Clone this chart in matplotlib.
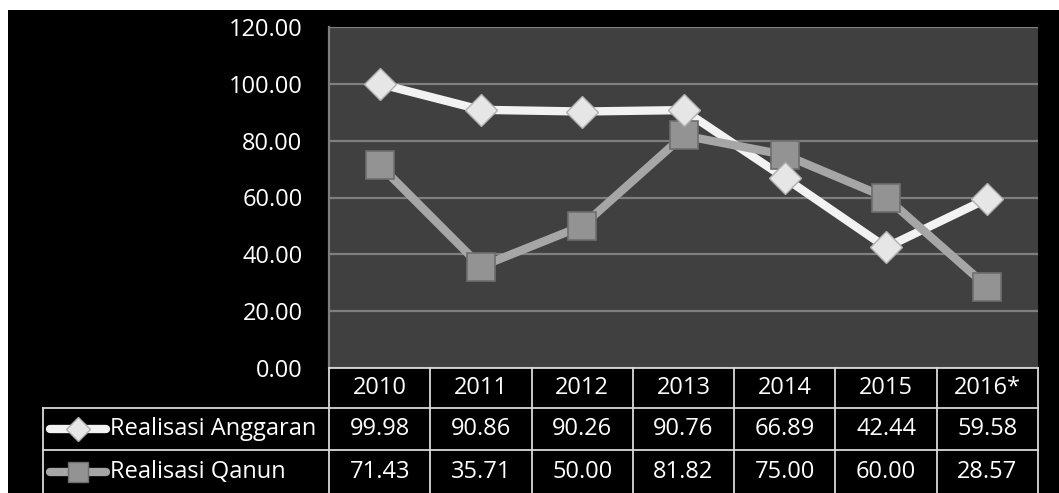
import matplotlib.pyplot as plt
import numpy as np

plt.rcParams['font.family'] = ['Open Sans', 'DejaVu Sans']

years = ["2010", "2011", "2012", "2013", "2014", "2015", "2016*"]
anggaran = [99.98, 90.86, 90.26, 90.76, 66.89, 42.44, 59.58]
qanun = [71.43, 35.71, 50.00, 81.82, 75.00, 60.00, 28.57]
series_names = ["Realisasi Anggaran", "Realisasi Qanun"]
yticks = [0, 20, 40, 60, 80, 100, 120]

W, H = 1059, 493
fs = 17
fig = plt.figure(figsize=(W / 100, H / 100), dpi=100)
fig.patch.set_facecolor('white')

# black chart background
bg = fig.add_axes([8 / W, 0, 1 - 8 / W, 1 - 10 / H])
bg.set_facecolor('black')
bg.set_xticks([]); bg.set_yticks([])
for s in bg.spines.values():
    s.set_visible(False)

# plot area
x0, x1 = 329, 1038
yt, yb = 27, 368
ax = fig.add_axes([x0 / W, 1 - yb / H, (x1 - x0) / W, (yb - yt) / H])
ax.set_facecolor('#404040')
ax.set_xlim(-0.5, len(years) - 0.5)
ax.set_ylim(0, 120)
ax.set_yticks(yticks)
ax.set_yticklabels([f"{v:.2f}" for v in yticks], color='white', fontsize=fs)
ax.tick_params(axis='y', length=0, pad=19)
ax.set_xticks([])
ax.grid(axis='y', color='#7f7f7f', linewidth=1.6)
ax.set_axisbelow(True)
for s in ax.spines.values():
    s.set_visible(False)
ax.spines['left'].set_visible(True)
ax.spines['left'].set_color('#7f7f7f')
ax.spines['left'].set_linewidth(1.6)

xs = np.arange(len(years))
ax.plot(xs, anggaran, color='#f2f2f2', linewidth=6, zorder=3)
ax.plot(xs, anggaran, linestyle='none', marker='D', markersize=16,
        markerfacecolor='#e6e6e6', markeredgecolor='#b0b0b0', markeredgewidth=1, zorder=5)
ax.plot(xs, qanun, color='#a6a6a6', linewidth=6, zorder=3)
ax.plot(xs, qanun, linestyle='none', marker='s', markersize=20,
        markerfacecolor='#939393', markeredgecolor='#6e6e6e', markeredgewidth=1.2, zorder=4)

# data table
tl = 43
tab = fig.add_axes([0, 0, 1, 1], facecolor='none')
tab.set_xlim(0, W)
tab.set_ylim(H, 0)
tab.axis('off')
col_edges = [x0 + (x1 - x0) * i / len(years) for i in range(len(years) + 1)]
rows = [368, 408, 450, 493]
lc = '#d9d9d9'
lw = 1.3
# horizontal lines
tab.plot([x0, x1], [rows[0], rows[0]], color=lc, lw=lw)
for r in rows[1:3]:
    tab.plot([tl, x1], [r, r], color=lc, lw=lw)
# vertical lines
for ce in col_edges:
    tab.plot([ce, ce], [rows[0], rows[3]], color=lc, lw=lw)
tab.plot([tl, tl], [rows[1], rows[3]], color=lc, lw=lw)

for i, yr in enumerate(years):
    cx = (col_edges[i] + col_edges[i + 1]) / 2
    tab.text(cx, (rows[0] + rows[1]) / 2, yr, color='white', fontsize=fs,
             ha='center', va='center')
    tab.text(cx, (rows[1] + rows[2]) / 2, f"{anggaran[i]:.2f}", color='white',
             fontsize=fs, ha='center', va='center')
    tab.text(cx, (rows[2] + rows[3]) / 2, f"{qanun[i]:.2f}", color='white',
             fontsize=fs, ha='center', va='center')

# legend keys inside the table
ky1 = (rows[1] + rows[2]) / 2
ky2 = (rows[2] + rows[3]) / 2
tab.plot([50, 106], [ky1, ky1], color='#f2f2f2', lw=6, solid_capstyle='round')
tab.plot([78], [ky1], marker='D', markersize=12, markerfacecolor='#e6e6e6',
         markeredgecolor='#b0b0b0', linestyle='none')
tab.plot([50, 106], [ky2, ky2], color='#a6a6a6', lw=6, solid_capstyle='round')
tab.plot([78], [ky2], marker='s', markersize=14, markerfacecolor='#939393',
         markeredgecolor='#6e6e6e', linestyle='none')
tab.text(110, ky1, series_names[0], color='white', fontsize=fs, ha='left', va='center')
tab.text(110, ky2, series_names[1], color='white', fontsize=fs, ha='left', va='center')

fig.savefig('out.png', dpi=100, facecolor=fig.get_facecolor())
